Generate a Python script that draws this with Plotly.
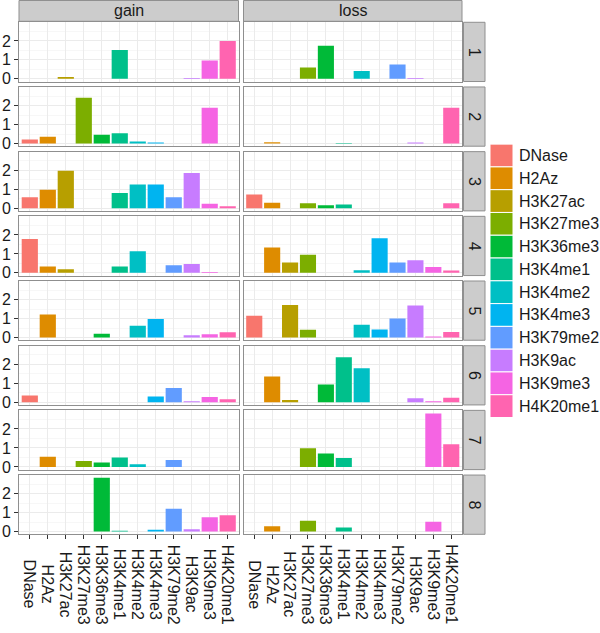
import plotly.graph_objects as go

categories = ["DNase", "H2Az", "H3K27ac", "H3K27me3", "H3K36me3", "H3K4me1",
              "H3K4me2", "H3K4me3", "H3K79me2", "H3K9ac", "H3K9me3", "H4K20me1"]
colors = ["#F8766D", "#DE8C00", "#B79F00", "#7CAE00", "#00BA38", "#00C08B",
          "#00BFC4", "#00B4F0", "#619CFF", "#C77CFF", "#F564E3", "#FF64B0"]
facet_cols = ["gain", "loss"]
facet_rows = ["1", "2", "3", "4", "5", "6", "7", "8"]

gain_values = [
    [0, 0, 0.10, 0, 0, 1.52, 0, 0, 0, 0.05, 0.97, 2.00],
    [0.21, 0.35, 0, 2.42, 0.46, 0.54, 0.10, 0.05, 0, 0, 1.89, 0],
    [0.58, 0.97, 1.98, 0, 0, 0.80, 1.25, 1.25, 0.58, 1.85, 0.24, 0.10],
    [1.78, 0.33, 0.19, 0, 0, 0.34, 1.14, 0, 0.40, 0.47, 0.05, 0],
    [0, 1.22, 0, 0, 0.20, 0, 0.62, 0.98, 0, 0.12, 0.17, 0.28],
    [0.35, 0, 0, 0, 0, 0, 0, 0.30, 0.75, 0.05, 0.28, 0.16],
    [0, 0.54, 0, 0.31, 0.23, 0.49, 0.14, 0, 0.37, 0, 0, 0],
    [0, 0, 0, 0, 2.84, 0.05, 0, 0.10, 1.20, 0.12, 0.76, 0.86],
]
loss_values = [
    [0, 0, 0, 0.60, 1.74, 0, 0.41, 0, 0.75, 0.05, 0, 0],
    [0, 0.07, 0, 0, 0, 0.03, 0, 0, 0, 0.05, 0, 1.88],
    [0.72, 0.29, 0, 0.26, 0.15, 0.20, 0, 0, 0, 0, 0, 0.26],
    [0, 1.34, 0.55, 0.95, 0, 0, 0.14, 1.83, 0.55, 0.67, 0.31, 0.12],
    [1.15, 0, 1.72, 0.41, 0, 0, 0.67, 0.43, 1.00, 1.69, 0.05, 0.29],
    [0, 1.36, 0.12, 0, 0.94, 2.37, 1.79, 0, 0, 0.21, 0.05, 0.23],
    [0, 0, 0, 0.99, 0.71, 0.47, 0, 0, 0, 0, 2.82, 1.20],
    [0, 0.28, 0, 0.57, 0, 0.22, 0, 0, 0, 0, 0.52, 0],
]
y_ticks = [0, 1, 2]

W, H = 600, 633
FONT = "Liberation Sans, Arial, sans-serif"
TXT = "#1a1a1a"
BORDER = "#8F8F8F"
GRID = "#EBEBEB"
MINOR = "#F7F7F7"
STRIP = "#CCCCCC"

def fx(px):
    return px / W

def fy(px):
    return 1 - px / H

col_x = [(19, 238.5), (243.5, 462)]
panel_top0, period, panel_h = 22.5, 65.3, 59.8

allmax = max(max(r) for r in gain_values + loss_values)
yr = [-0.05 * allmax, allmax * 1.05]

fig = go.Figure()
layout = dict(
    width=W, height=H, autosize=False,
    margin=dict(l=0, r=0, t=0, b=0),
    paper_bgcolor="white", plot_bgcolor="white",
    showlegend=False, bargap=0.1,
    font=dict(family=FONT, size=16, color=TXT),
)
shapes = []
annotations = []

for r in range(8):
    top = panel_top0 + r * period
    bot = top + panel_h
    for c in range(2):
        k = r * 2 + c + 1
        vals = (gain_values if c == 0 else loss_values)[r]
        fig.add_trace(go.Bar(
            x=categories, y=vals, marker=dict(color=colors, line=dict(width=0)),
            width=0.9, xaxis=f"x{k}", yaxis=f"y{k}", showlegend=False,
        ))
        last = (r == 7)
        layout[f"xaxis{k}"] = dict(
            domain=[fx(col_x[c][0]), fx(col_x[c][1])], anchor=f"y{k}",
            type="category", categoryorder="array", categoryarray=categories,
            range=[-0.6, len(categories) - 0.4],
            showgrid=True, gridcolor=GRID, gridwidth=1, zeroline=False,
            showline=True, mirror=True, linecolor=BORDER, linewidth=1,
            ticks="outside" if last else "", ticklen=4, tickcolor="#333333",
            showticklabels=False, fixedrange=True,
        )
        layout[f"yaxis{k}"] = dict(
            domain=[fy(bot), fy(top)], anchor=f"x{k}",
            range=yr, tickmode="array", tickvals=y_ticks,
            ticktext=[str(v) for v in y_ticks],
            showgrid=True, gridcolor=GRID, gridwidth=1, zeroline=False,
            minor=dict(tickmode="array", tickvals=[0.5, 1.5, 2.5], showgrid=True,
                       gridcolor=MINOR, gridwidth=1, ticks=""),
            showline=True, mirror=True, linecolor=BORDER, linewidth=1,
            ticks="outside" if c == 0 else "", ticklen=4, tickcolor="#333333",
            showticklabels=(c == 0), tickfont=dict(size=16, color=TXT),
            fixedrange=True,
        )
    # right strip
    shapes.append(dict(type="rect", xref="paper", yref="paper",
                       x0=fx(463.5), x1=fx(485), y0=fy(bot), y1=fy(top),
                       fillcolor=STRIP, line=dict(color=BORDER, width=1), layer="below"))
    annotations.append(dict(text=facet_rows[r], xref="paper", yref="paper",
                            x=fx(474.25), y=fy((top + bot) / 2), showarrow=False,
                            textangle=90, font=dict(size=16, color=TXT),
                            xanchor="center", yanchor="middle"))

# top strips
for c in range(2):
    shapes.append(dict(type="rect", xref="paper", yref="paper",
                       x0=fx(col_x[c][0]), x1=fx(col_x[c][1]), y0=fy(21.5), y1=fy(0.5),
                       fillcolor=STRIP, line=dict(color=BORDER, width=1), layer="below"))
    annotations.append(dict(text=facet_cols[c], xref="paper", yref="paper",
                            x=fx((col_x[c][0] + col_x[c][1]) / 2), y=fy(11),
                            showarrow=False, font=dict(size=16, color=TXT),
                            xanchor="center", yanchor="middle"))

# x tick labels (rotated, centred like ggplot)
for c in range(2):
    k = 14 + c + 1
    for cat in categories:
        annotations.append(dict(text=cat, xref=f"x{k}", yref="paper",
                                x=cat, y=fy(590), showarrow=False, textangle=90,
                                font=dict(size=16, color=TXT),
                                xanchor="center", yanchor="middle"))

# legend
leg_top, key_h = 145.5, 23
for i, (cat, col) in enumerate(zip(categories, colors)):
    y0 = leg_top + i * key_h
    shapes.append(dict(type="rect", xref="paper", yref="paper",
                       x0=fx(490), x1=fx(513), y0=fy(y0 + key_h), y1=fy(y0),
                       fillcolor=col, line=dict(color="white", width=1)))
    annotations.append(dict(text=cat, xref="paper", yref="paper",
                            x=fx(517), y=fy(y0 + key_h / 2), showarrow=False,
                            font=dict(size=16, color=TXT),
                            xanchor="left", yanchor="middle"))

layout["shapes"] = shapes
layout["annotations"] = annotations
fig.update_layout(**layout)
fig.write_html(
    "out.html",
    config={"displayModeBar": False, "staticPlot": True},
    post_script="document.body.style.margin='0';document.body.style.overflow='hidden';",
)
